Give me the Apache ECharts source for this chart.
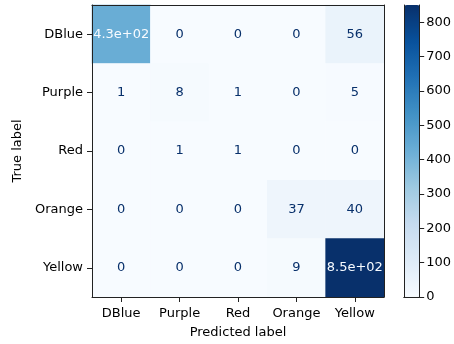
<!DOCTYPE html>
<html>
<head>
<meta charset="utf-8">
<script src="https://cdn.jsdelivr.net/npm/echarts@6/dist/echarts.min.js"></script>
<style>
  html, body { margin: 0; padding: 0; background: #fff; }
  #chart { width: 454px; height: 344px; }
</style>
</head>
<body>
<div id="chart"></div>
<script>
// Class names (rows = true label, columns = predicted label)
const classes = ['DBlue', 'Purple', 'Red', 'Orange', 'Yellow'];

// Confusion-matrix counts, one array per true class
const rowDBlue  = [430, 0, 0, 0, 56];
const rowPurple = [1, 8, 1, 0, 5];
const rowRed    = [0, 1, 1, 0, 0];
const rowOrange = [0, 0, 0, 37, 40];
const rowYellow = [0, 0, 0, 9, 850];

// Colour-bar tick values
const colorbarTicks = [0, 100, 200, 300, 400, 500, 600, 700, 800];

// Matplotlib "Blues" colormap stops
const blues = ['#f7fbff', '#deebf7', '#c6dbef', '#9ecae1', '#6baed6',
               '#4292c6', '#2171b5', '#08519c', '#08306b'];

const rows = [rowDBlue, rowPurple, rowRed, rowOrange, rowYellow];
const allValues = rows.flat();
const vMin = Math.min(...allValues);
const vMax = Math.max(...allValues);
const thresh = (vMax + vMin) / 2;

// Format like Python's '.2g'
function fmt2g(v) {
  if (v === 0) return '0';
  const exp = Math.floor(Math.log10(Math.abs(v)));
  if (exp >= 2 || exp < -4) {
    let s = v.toExponential(1);
    return s.replace(/e([+-])(\d)$/, 'e$10$2');
  }
  return String(Number(v.toPrecision(2)));
}

const cells = [];
rows.forEach((r, yi) => r.forEach((v, xi) => {
  cells.push({
    value: [xi, yi, v],
    label: { color: v < thresh ? blues[8] : blues[0] }
  });
}));

const FONT = 'DejaVu Sans';
const frameAxis = { show: true, lineStyle: { color: '#222', width: 1 } };

const chart = echarts.init(document.getElementById('chart'), null, { renderer: 'canvas' });
chart.setOption({
  animation: false,
  textStyle: { fontFamily: FONT },
  grid: [
    { left: 92, top: 5, width: 292, height: 292 },
    { left: 404, top: 5, width: 16, height: 292 }
  ],
  xAxis: [
    {
      type: 'category', data: classes, gridIndex: 0, position: 'bottom', z: 10,
      axisLine: frameAxis,
      axisTick: { show: true, alignWithLabel: true, interval: 0, length: 5, lineStyle: { color: '#222' } },
      axisLabel: { fontSize: 13, color: '#000', margin: 10, interval: 0, fontFamily: FONT },
      splitLine: { show: false },
      name: 'Predicted label', nameLocation: 'middle', nameGap: 29,
      nameTextStyle: { fontSize: 13, color: '#000', fontFamily: FONT }
    },
    {
      type: 'category', data: classes, gridIndex: 0, position: 'top', z: 10,
      axisLine: frameAxis, axisTick: { show: false }, axisLabel: { show: false }
    },
    {
      type: 'category', data: ['c'], gridIndex: 1, position: 'bottom', z: 10,
      axisLine: frameAxis, axisTick: { show: false }, axisLabel: { show: false }
    },
    {
      type: 'category', data: ['c'], gridIndex: 1, position: 'top', z: 10,
      axisLine: frameAxis, axisTick: { show: false }, axisLabel: { show: false }
    }
  ],
  yAxis: [
    {
      type: 'category', data: classes, gridIndex: 0, inverse: true, position: 'left', z: 10,
      axisLine: frameAxis,
      axisTick: { show: true, alignWithLabel: true, interval: 0, length: 5, lineStyle: { color: '#222' } },
      axisLabel: { fontSize: 13, color: '#000', margin: 9, interval: 0, fontFamily: FONT },
      splitLine: { show: false },
      name: 'True label', nameLocation: 'middle', nameGap: 61, nameRotate: 90,
      nameTextStyle: { fontSize: 13, color: '#000', fontFamily: FONT }
    },
    {
      type: 'category', data: classes, gridIndex: 0, inverse: true, position: 'right', z: 10,
      axisLine: frameAxis, axisTick: { show: false }, axisLabel: { show: false }
    },
    {
      type: 'value', gridIndex: 1, min: vMin, max: vMax, position: 'right', z: 10,
      axisLine: frameAxis,
      axisTick: { show: true, length: 5, lineStyle: { color: '#222' }, customValues: colorbarTicks },
      axisLabel: {
        fontSize: 13, color: '#000', margin: 7, fontFamily: FONT,
        customValues: colorbarTicks
      },
      splitLine: { show: false }
    },
    {
      type: 'value', gridIndex: 1, min: vMin, max: vMax, position: 'left', z: 10,
      axisLine: frameAxis, axisTick: { show: false }, axisLabel: { show: false },
      splitLine: { show: false }
    }
  ],
  visualMap: {
    type: 'continuous',
    min: vMin, max: vMax,
    seriesIndex: 0,
    calculable: false,
    hoverLink: false,
    orient: 'vertical',
    left: 404, top: 5,
    padding: 0,
    itemWidth: 16, itemHeight: 292,
    text: null,
    showLabel: false,
    inRange: { color: blues }
  },
  series: [{
    type: 'heatmap',
    xAxisIndex: 0, yAxisIndex: 0,
    data: cells,
    label: {
      show: true, fontSize: 13, fontFamily: FONT,
      formatter: p => fmt2g(p.value[2])
    },
    emphasis: { disabled: true },
    itemStyle: { borderWidth: 0 }
  }]
});
</script>
</body>
</html>
